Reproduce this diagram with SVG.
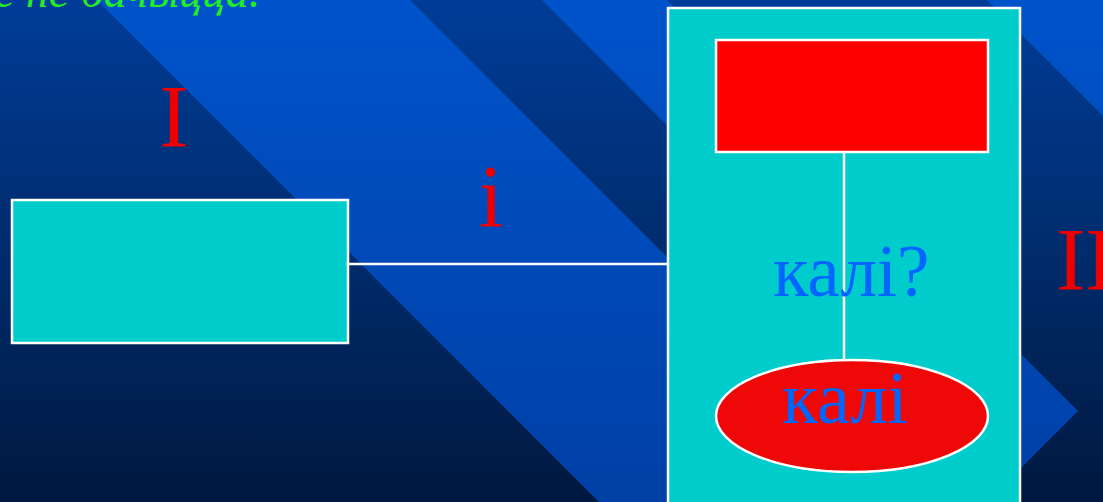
<svg xmlns="http://www.w3.org/2000/svg" width="1103" height="502" viewBox="0 0 1103 502">
<style>
.node{stroke:#ffffff;stroke-width:2.5}
.cyan{fill:#00cccc}
.conn{stroke:#ffffff;stroke-width:2.5;fill:none}
.roman{font-family:"Liberation Serif","Times New Roman",serif}
.red{fill:#ee0000}
.blue{fill:#0066ff}
</style>
<defs>
<linearGradient id="bgDark" x1="0" y1="0" x2="0" y2="1">
<stop offset="0" stop-color="#003c98"/>
<stop offset="0.5" stop-color="#002c6c"/>
<stop offset="1" stop-color="#00183f"/>
</linearGradient>
<linearGradient id="bgLight" gradientUnits="userSpaceOnUse" x1="0" y1="0" x2="0" y2="502">
<stop offset="0" stop-color="#0053ca"/>
<stop offset="1" stop-color="#0040a6"/>
</linearGradient>
</defs>
<g id="background">
<rect x="0" y="0" width="1103" height="502" fill="url(#bgDark)"/>
<polygon points="97,0 410,0 1010,600 697,600" fill="url(#bgLight)"/>
<polygon points="542,0 667,0 1078,411 1015,474" fill="url(#bgLight)"/>
<polygon points="987,0 1103,0 1103,116" fill="url(#bgLight)"/>
</g>
<g id="title">
<text x="-6" y="7" font-family="'Liberation Serif',serif" font-style="italic" font-size="46" fill="#22ee22">е не бачыцца.</text>
</g>
<g id="connectors">
<line class="conn" x1="348" y1="264" x2="668" y2="264"/>
<line class="conn" x1="844" y1="152" x2="844" y2="360"/>
</g>
<g id="node-left">
<rect class="node cyan" x="12" y="200" width="336" height="143"/>
</g>
<g id="label-I">
<text class="roman red" x="174" y="146" font-size="88" text-anchor="middle">I</text>
</g>
<g id="label-i">
<text class="roman red" x="491" y="226" font-size="88" text-anchor="middle">і</text>
</g>
<g id="label-II">
<text class="roman red" x="1056" y="289" font-size="88">II</text>
</g>
<g id="node-box">
<rect class="node cyan" x="668" y="8" width="352" height="520"/>
</g>
<g id="node-red">
<rect class="node" fill="#ff0000" x="716" y="40" width="272" height="112"/>
</g>
<g id="connector-inner">
<line class="conn" x1="844" y1="152" x2="844" y2="360"/>
</g>
<g id="label-kali-q">
<text class="roman blue" x="773" y="296" font-size="73">калі?</text>
</g>
<g id="node-ellipse">
<ellipse class="node" fill="#ee0808" cx="852" cy="416" rx="136" ry="56"/>
<text class="roman blue" x="845" y="423" font-size="74" text-anchor="middle">калі</text>
</g>
</svg>
